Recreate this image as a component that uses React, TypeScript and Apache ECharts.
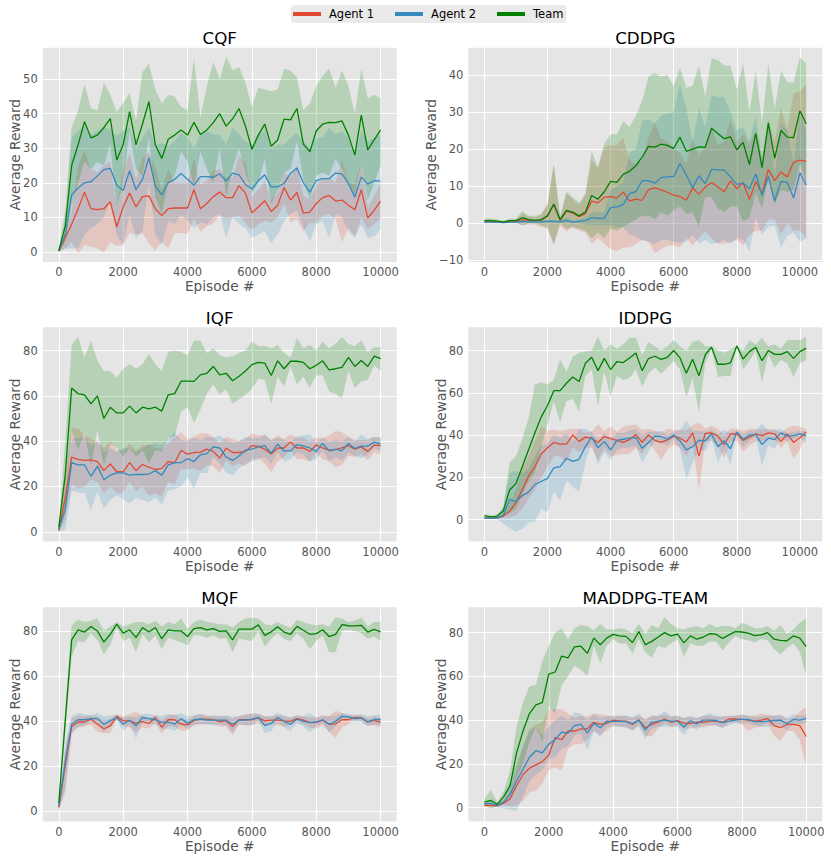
import React, { useEffect, useRef } from "react";
import * as echarts from "echarts";

// ---------- episodes ----------
const EPISODES_TO_10000 = [
  0, 200, 400, 600, 800, 1000,
  1200, 1400, 1600, 1800, 2000,
  2200, 2400, 2600, 2800, 3000,
  3200, 3400, 3600, 3800, 4000,
  4200, 4400, 4600, 4800, 5000,
  5200, 5400, 5600, 5800, 6000,
  6200, 6400, 6600, 6800, 7000,
  7200, 7400, 7600, 7800, 8000,
  8200, 8400, 8600, 8800, 9000,
  9200, 9400, 9600, 9800, 10000,
];
const EPISODES_TO_10200 = [
  0, 200, 400, 600, 800, 1000,
  1200, 1400, 1600, 1800, 2000,
  2200, 2400, 2600, 2800, 3000,
  3200, 3400, 3600, 3800, 4000,
  4200, 4400, 4600, 4800, 5000,
  5200, 5400, 5600, 5800, 6000,
  6200, 6400, 6600, 6800, 7000,
  7200, 7400, 7600, 7800, 8000,
  8200, 8400, 8600, 8800, 9000,
  9200, 9400, 9600, 9800, 10000, 10200,
];

const SERIES_NAMES = ["Agent 1", "Agent 2", "Team"];
const X_TICK_LABELS = ["0", "2000", "4000", "6000", "8000", "10000"];

// ---------- CQF ----------
const cqfA1 = [0.3, 4, 8, 12.5, 17.3, 12.5, 12.2, 12.5, 14.5, 7.2, 13, 17, 13, 16, 16.2, 12.5, 10.5, 12.5, 12.7, 12.7, 12.7, 18, 12.5, 14, 16, 17.3, 15.7, 15.7, 19.2, 17, 11.3, 13, 14.8, 11.7, 13.5, 18.6, 15, 17.2, 11.2, 11.5, 14, 15.7, 16.3, 14.7, 15, 13.5, 12.2, 18, 9.8, 12, 14.7];
const cqfA1Lo = [0, 1, 3, -0.5, 2, 1.5, 1.0, -0.2, 2.8, 1.8, 2.0, 5.5, 5.0, 5.5, 2.5, 0.3, 3.0, 1.0, 5.5, 5.5, 5.2, 9.5, 5.8, 7.5, 8.2, 10.5, 9.5, 10, 10.5, 8.5, 6.5, 8.0, 9.0, 8.5, 10, 14, 8.5, 9.5, 6.0, 8.5, 8.5, 10.5, 11, 9.5, 2.8, 7, 4.5, 10, 6.5, 8, 9.5];
const cqfA1Hi = [0.5, 5, 12, 25, 29.5, 24, 23, 25, 26, 13, 24, 28.5, 21, 27, 29, 24.5, 18, 24, 20, 20, 20, 27, 19.5, 20.5, 23.5, 24, 21.5, 21.5, 28, 25.5, 16, 18, 20.5, 15, 17, 23, 21.5, 25, 16.5, 15, 19.5, 21, 21.5, 20, 27, 20, 19.5, 26, 13, 16, 20];
const cqfA2 = [0.3, 5, 16.5, 18.5, 20, 20.3, 22, 23.8, 24.2, 19.3, 17.8, 23.5, 18, 21, 27.3, 19, 16.5, 20, 21, 22.7, 21, 19.3, 21.8, 21.8, 21.6, 22.6, 20.5, 22.8, 22.3, 19.5, 18.2, 20.6, 22.3, 18.8, 18.8, 19.8, 22.7, 24.3, 20, 17.3, 20.6, 21.2, 21.2, 22.8, 22.6, 19.8, 15.8, 21.7, 19.6, 20.6, 20.5];
const cqfA2Lo = [0, 1, 1, 1, 5, 7, 8, 10, 15, 5, 2, 11, 4, 6, 20, 5, 2, 9, 8, 11, 9, 7, 8.5, 8, 10, 11, 4, 10, 8, 7, 4, 5, 6, 2.5, 5, 9, 11, 12, 7, 3, 8, 9, 4, 11, 10, 6, 4, 8, 4, 4.5, 6.5];
const cqfA2Hi = [0.5, 6, 33, 35, 36.5, 34, 35, 36, 35.5, 33.5, 35, 36, 30, 33, 36, 31, 31.5, 30.5, 32, 34.5, 33, 30, 34, 35, 34, 34, 31, 36, 34, 32, 31, 34, 35, 30, 31, 31, 33, 34.5, 32, 30, 33, 33, 36, 34, 35, 33, 27.5, 35, 32, 33, 34];
const cqfTeam = [0.3, 7.5, 25, 31, 37.7, 33, 33.8, 36, 38.6, 26.6, 31, 40.6, 31, 37, 43.5, 31, 27, 32.6, 33.8, 35.3, 33.8, 37.5, 34, 35.3, 37.4, 40, 36.4, 38.5, 41.5, 36.4, 29.7, 33.8, 37, 30.6, 32.4, 38.4, 38.2, 41.5, 31.2, 29, 35, 37, 37.5, 37.4, 37.9, 33.8, 28, 39.6, 29.5, 32.4, 35.3];
const cqfTeamLo = [0, 3, 14, 20, 26, 24, 26, 25, 31, 13, 20, 35, 24, 22, 33, 16, 11, 20, 22, 29, 26, 19, 29, 24, 20, 30, 16, 24, 30, 23, 17, 20, 27, 14, 18, 23, 24, 32, 21, 15, 22, 23, 22, 27, 24, 20, 16, 26, 15, 20, 25];
const cqfTeamHi = [1, 12, 36, 41, 48.5, 41.5, 41, 49, 45.5, 40.5, 43, 46, 38, 52, 54.5, 47, 43, 45.5, 45, 42, 41, 56, 39, 48, 55, 50, 56.5, 52.5, 53.5, 49, 42, 47.5, 47, 46.5, 47, 53, 52.5, 50.5, 41, 43, 48, 51, 53, 47.5, 52.5, 48, 40, 53, 44.5, 45.5, 44.5];

// ---------- CDDPG ----------
const cddpgA1 = [0.5, 0.5, 0.4, 0.3, 0.5, 0.5, 1.0, 0.8, 0.7, 0.8, 2.0, 5.0, 0.8, 3.2, 2.8, 1.8, 2.5, 6.0, 5.5, 7.0, 7.2, 6.8, 8.4, 6.0, 6.5, 6.2, 9.0, 9.6, 9.0, 8.3, 7.6, 7.2, 6.2, 9.5, 7.8, 9.8, 11.0, 9.8, 8.5, 11.5, 9.3, 11.0, 6.4, 11.2, 8.0, 14.5, 11.5, 13.8, 12.5, 16.5, 17, 16.7];
const cddpgA1Lo = [0, 0, 0, 0, 0, 0, -0.5, -0.3, -0.3, -1, -1.5, -6, -0.5, -2.2, -1, -2, -2.5, -5.5, -4, -5.5, -7, -7.5, -6.5, -6.5, -5.5, -4.5, -5, -8, -7, -6, -6, -6.5, -4, -6, -4, -2, -4, -5.5, -5.5, -5, -4.5, -6, -3, -2, -2, 1, 1, -3, 0, -2, -2, -4];
const cddpgA1Hi = [1, 1, 0.8, 0.6, 1, 1, 2.5, 1.8, 1.5, 2.3, 5, 16, 1.5, 8, 6.5, 5, 7.5, 17, 15, 20.5, 21, 21, 23, 17, 16, 17, 23, 27, 23, 22, 20, 19, 16, 23, 18, 21, 26, 21, 22, 28, 22, 24, 21, 25, 18, 28, 22, 31, 25, 35, 35.5, 37.5];
const cddpgA2 = [0.3, 0.3, 0.3, 0.2, 0.3, 0.3, 0.5, 0.4, 0.4, 0.4, 0.5, 0.5, 0.4, 0.8, 0.3, 0.5, 0.7, 1.5, 1.3, 1.4, 4.2, 4.4, 5.0, 8.0, 8.5, 11.5, 11.5, 10.8, 12.3, 12.5, 12.6, 16.1, 13, 9.5, 12.8, 10.7, 14.5, 14.4, 14.3, 12.5, 10.5, 10.8, 9.3, 13.3, 7.5, 12.6, 6.0, 11.3, 11, 6.8, 13.6, 10.3];
const cddpgA2Lo = [0, 0, 0, 0, 0, 0, 0, 0, 0, 0, 0, 0, 0, 0, 0, 0, -0.3, -0.5, -0.5, -0.5, -0.5, -1, -1, -3, -3.5, -4.5, -5, -5.5, -4.5, -4.5, -5, -5.3, -5, -3, -5.5, -4.5, -5.5, -5.2, -4.5, -5.5, -4, -4.5, -7.5, 1.5, -3, -1, -0.5, -6.5, -3.5, -2.5, -5, -4];
const cddpgA2Hi = [0.6, 0.6, 0.6, 0.4, 0.6, 0.6, 1, 0.8, 0.8, 0.8, 1, 1, 0.8, 1.5, 0.8, 1, 1.5, 3, 3, 3, 9, 10, 11, 19, 20, 27.5, 28, 27, 29, 29.5, 30, 37.5, 31, 22, 31, 26, 34.5, 34, 34, 30, 25, 26, 22, 29, 17, 28, 13, 27, 25, 16, 30, 25];
const cddpgTeam = [0.7, 0.7, 0.6, 0.3, 0.7, 0.7, 1.5, 1.0, 0.8, 1.0, 2.0, 5.2, 1.0, 3.5, 3.0, 2.0, 3.0, 7.5, 6.5, 8.5, 11.3, 11, 13.2, 14, 15.5, 17.8, 20.7, 20.5, 21.3, 21, 20.2, 23.2, 19.4, 20, 20.6, 20.5, 25.6, 24.2, 22.8, 23.3, 19.8, 21.8, 15.8, 24.2, 15, 27, 17.5, 25, 23.2, 23.1, 30.3, 26.8];
const cddpgTeamLo = [0.2, 0.2, 0.2, 0, 0.3, 0.3, -0.5, 0, 0, -0.5, -1, -5.5, 0, -1.5, -1, -1.5, -2, -4, -2.5, -4, -1.5, -2, -1, 0, 1, 2, 2, 1, 3, 2, 3.5, 4.5, 2.5, 3, -1, 7, 7, 4, 3, 4.5, 4.5, 0.5, 1.5, 8, 4, 12, 5, 9, 8.5, 9, 16, 11];
const cddpgTeamHi = [1.3, 1.3, 1, 0.7, 1.2, 1.2, 3.3, 2, 2, 2.5, 5, 16, 2, 8.5, 7, 5.5, 8, 19.5, 15, 21.5, 24, 24, 27.5, 26, 29, 33, 39.5, 40.5, 39.5, 40, 37, 42, 36.5, 37, 42.5, 34, 44.5, 44, 42.5, 42.5, 36, 43, 30, 41, 27, 43, 31, 41, 38, 38, 44.8, 43];

// ---------- IQF ----------
const iqfA1 = [0.5, 15, 33, 32, 31.5, 31.7, 31, 27, 30, 26.5, 26.5, 30.5, 27, 29.7, 28.5, 27.5, 28, 31, 30.5, 36, 34.3, 35, 35.2, 36.5, 35.5, 32.5, 37, 35, 35, 35.5, 38, 37.7, 36.5, 34.3, 37, 37, 39.7, 37, 37, 35.5, 38.3, 37, 36, 36.3, 37, 38, 36.5, 37.5, 35.5, 38.3, 38];
const iqfA1Lo = [0, 5, 21, 19, 20, 23, 22, 17, 20, 17, 17.5, 22, 18, 20, 16, 17, 15.5, 22, 21, 28, 27.5, 28, 27, 29.5, 29, 26, 31.5, 29, 30, 29, 32, 32.5, 30, 26.5, 31, 33, 36, 32, 32, 31, 35, 32, 31, 28.5, 29.5, 33.5, 33, 34.5, 31.5, 35, 34];
const iqfA1Hi = [1, 25, 46, 45.5, 43, 41, 40, 37, 40, 36, 36, 39, 36, 38, 38.5, 37, 36.5, 39, 41.5, 44, 41, 42, 43.5, 43.5, 42, 39, 42, 41, 40, 41, 43.5, 42.5, 43, 40.5, 42.5, 41, 43, 41.5, 41.5, 40, 41.5, 41.5, 42.5, 44.5, 44, 42, 40.5, 40.5, 40.5, 42, 41.5];
const iqfA2 = [1, 10, 30.5, 29.5, 29.5, 24.5, 29, 23, 25, 26, 26, 25, 25.3, 25.3, 25.5, 27, 25, 29.5, 30.5, 30.5, 32.3, 31, 34, 34.5, 37.5, 37, 33, 31.5, 33.5, 36, 36.5, 37.5, 38, 34.7, 38.7, 35.7, 35.7, 38.5, 37.8, 37, 35.5, 39, 35.7, 36.5, 35.7, 39, 36.8, 37.8, 37.8, 39.6, 38.7];
const iqfA2Lo = [0, 1, 18, 17.5, 17, 9.5, 18, 10, 14, 16, 14.5, 12.5, 15, 14, 13, 15, 12, 18, 19, 20, 24, 19, 26, 26, 33, 30, 26, 25, 28, 30, 31, 32, 33, 30, 35, 31, 32, 35, 34, 31, 32, 36, 31, 33, 31.5, 35, 33.5, 32.5, 34, 37, 35.5];
const iqfA2Hi = [1.5, 15, 41, 41.5, 42, 38, 40, 35, 37, 35, 37, 37, 35, 37, 38.5, 39, 38.5, 41, 44, 40.5, 40, 41.5, 40.5, 42, 41.5, 42.5, 40.5, 39.5, 40, 42, 41.5, 41.5, 42.5, 40.5, 41.5, 40.5, 39.5, 42, 42.5, 43, 39.5, 41.5, 40, 40.5, 40, 42, 40, 43, 41, 42, 41.5];
const iqfTeam = [2, 25, 63.5, 61, 60.5, 56.5, 60, 50, 55, 52.5, 52.5, 55.5, 52.5, 55, 54.3, 55, 53.3, 60.5, 61, 66.5, 66.5, 66.4, 69.3, 70, 73, 69.3, 70, 66.7, 68.7, 71, 73.8, 74.8, 74.5, 69, 75.5, 72, 75.3, 75.3, 74.8, 72, 73.5, 75.5, 71.5, 72, 72.6, 77, 73, 75.6, 73, 77.6, 76.5];
const iqfTeamLo = [0, 8, 44.5, 36, 44, 29, 45, 29, 39, 37, 33, 37, 33, 36, 30, 36, 35.5, 41.5, 42, 53, 55, 48, 54, 61, 65, 60.5, 63, 56.5, 58.5, 60.5, 63, 67.5, 67, 56.5, 68.5, 64, 73, 65, 68.5, 63.5, 69, 69, 62, 61, 59, 71, 63.5, 66.5, 67, 73.5, 71];
const iqfTeamHi = [3, 40, 82.5, 86, 77, 84.5, 75.5, 71, 71, 68, 72, 74, 72, 74, 78.5, 74, 71, 79.5, 80, 79.5, 78, 84.5, 84.5, 79, 81, 78, 77, 77.5, 79, 80, 84, 82, 82, 81, 82.5, 79, 77, 85.5, 81, 82.5, 80, 84, 81, 83, 86, 83, 82, 84.5, 79.5, 81.5, 81.5];

// ---------- IDDPG ----------
const iddpgA1 = [0.8, 0.7, 0.8, 1.5, 4, 8, 14, 20.5, 25, 31, 34, 36.5, 35.7, 35.7, 40, 37, 39, 38.5, 36.5, 39.3, 38.3, 37.5, 36.5, 37.8, 40.2, 36.5, 40, 37.5, 36.5, 37.7, 39.5, 38.5, 36.7, 41, 30, 40.8, 41, 39.5, 35.5, 40.5, 40.5, 37.5, 39, 40.5, 39.7, 41, 40.5, 37, 40.5, 36.5, 38.7, 41.5];
const iddpgA1Lo = [0.3, 0.3, 0.3, 0.8, 1, 2, 5, 10, 14, 20, 25, 30, 30, 27, 34, 32, 34, 34, 28, 34, 30, 30.5, 31, 31, 34, 31, 36, 33, 28, 33, 35.5, 34, 30, 36, 14, 37, 37, 35, 29, 37, 37, 32, 35, 37, 37, 38, 38, 34, 37, 28.5, 33, 40];
const iddpgA1Hi = [1.2, 1, 1.2, 2.5, 8, 14, 24, 30, 37, 44, 42, 42.5, 42, 42.5, 43, 43, 41, 41.5, 45, 42, 44, 41.5, 44, 44.5, 45, 42.5, 43, 42, 41, 43, 42.5, 42.5, 42, 44.5, 46, 43, 44.5, 43, 40, 43, 43, 42, 43, 43, 42.5, 43, 42.5, 41, 43.5, 44.5, 44, 43];
const iddpgA2 = [0.7, 0.6, 0.7, 2, 9.5, 8.5, 11.3, 13, 16.5, 18, 19.5, 24.5, 25, 29, 27.5, 28.5, 34.5, 39, 34, 37, 33, 37.5, 38, 38.5, 38.8, 33.7, 36.5, 39.5, 39.3, 38, 40, 37.2, 33, 34.5, 37.5, 37.3, 40.5, 34.5, 37.3, 33.5, 41.5, 38, 40, 40.3, 35.5, 38.5, 37.8, 41, 39.5, 39.7, 40.5, 39.7];
const iddpgA2Lo = [0.2, 0.2, 0.2, -2, -4, -5.8, -4.5, -1.5, -1, 5, 3.5, 13, 9, 18.5, 15.5, 13, 27, 36, 26, 32, 28, 33, 34, 34, 35, 27, 32, 37, 36.5, 35, 38, 33, 19, 27, 33, 32.5, 38.5, 27, 33, 26, 40.5, 34, 37.5, 39, 25.5, 35, 33.5, 38.5, 37, 38, 39, 36];
const iddpgA2Hi = [1.2, 1, 1.2, 6, 22, 23, 22, 24, 30, 35, 36, 40, 38.5, 41, 37, 43, 43, 41.5, 38, 41, 38.5, 41, 41, 42, 43, 40, 41.5, 41.5, 42, 40, 41.5, 42, 47, 42, 42, 41.5, 42.5, 40.5, 42.5, 41, 42, 40.5, 42, 42, 45.5, 42, 42.5, 43, 41, 41.5, 42, 41.5];
const iddpgTeam = [1.8, 1.3, 1.5, 4, 14, 17, 25, 33, 41, 48.5, 54, 61, 61, 64.5, 67.5, 65.3, 74, 76.8, 70.5, 76.3, 71, 74.8, 74.3, 76.5, 78.8, 70.5, 76.2, 77.3, 75.8, 76.8, 80, 76.5, 69.3, 75.9, 68, 78, 81.6, 73.5, 73.5, 74.2, 82.2, 76, 79.5, 81.5, 75.2, 80, 78.2, 78.2, 79.5, 76.3, 79.5, 81];
const iddpgTeamLo = [1, 0.5, 0.5, 1.5, 3, 5, 12, 18, 22, 34, 45, 56, 46, 56, 57, 51, 68, 71, 54, 70, 58, 68, 66, 67, 71, 63, 69, 72, 69, 72, 75, 71, 58, 67, 51, 74, 81, 67.5, 68, 68, 82, 71, 75, 80, 65, 78, 72, 75.5, 74, 67.5, 74, 75.5];
const iddpgTeamHi = [2.5, 2, 2.5, 6, 27, 30, 38, 48, 64, 65, 64, 66, 76, 70, 77, 79, 79.5, 80, 86.5, 80, 83, 81, 83, 86, 86, 78, 84, 82, 80, 82, 85, 82, 80, 84, 85, 82, 82, 80, 79, 80.5, 82, 80, 85, 83, 86, 82, 83, 81, 85, 85, 85, 86.5];

// ---------- MQF ----------
const mqfA1 = [1.5, 20, 37.5, 39.5, 39.5, 40.8, 38.5, 36.5, 37.8, 42, 40, 40, 39, 39.7, 38.8, 41.5, 37.2, 40.5, 40.5, 38.5, 38.2, 40.2, 40.8, 40.8, 40.5, 39.7, 40, 37.5, 40.5, 40.5, 40.5, 41.3, 40, 40.3, 40.3, 40, 39.8, 41, 40.3, 39.2, 39.3, 40.3, 38.5, 38.7, 40.5, 40.5, 41.5, 41.3, 39.5, 40.2, 39.3];
const mqfA1Lo = [0, 8, 34, 37, 37.5, 38.5, 35, 34.5, 34.5, 40.5, 38, 37, 35, 37, 36.5, 39, 34.5, 37.5, 37.5, 35.5, 36, 38, 38.5, 38.5, 38.5, 37.5, 37.5, 33.5, 38.5, 38, 38, 39, 37.5, 38.5, 38, 37.5, 38, 39.5, 38.5, 37, 36.5, 38, 35, 32.5, 37, 38.5, 40.5, 40, 38, 38, 37];
const mqfA1Hi = [2.5, 27, 41, 42.5, 42, 42.5, 42, 40, 41, 43, 42, 43, 44, 42, 41, 42.5, 40, 42.5, 43, 41, 40.5, 42, 43, 42.5, 42, 42, 42, 41, 42, 43, 43, 43, 42, 42, 42.5, 42, 41.5, 42.5, 42, 41.5, 41.5, 42.5, 42, 44.5, 43.5, 42.5, 42.5, 42.5, 41, 42, 41.5];
const mqfA2 = [2, 22, 38.5, 40.5, 40.5, 41, 41, 38.5, 40, 41.5, 38.5, 40.3, 37.8, 41.5, 41, 40.5, 39.3, 39.5, 38.5, 41, 39, 40.5, 40.8, 40.3, 40.3, 40.3, 40.3, 38.5, 40.3, 40.3, 40.8, 41.5, 38, 38.8, 41.5, 39.8, 38.5, 40.8, 39.8, 39.3, 39.5, 40.5, 38.5, 39.8, 42, 41.8, 41, 41.3, 39.6, 40.6, 40.6];
const mqfA2Lo = [0, 10, 35, 37.5, 38, 39.5, 38.5, 35, 37.5, 40.5, 35.5, 38.5, 32, 40, 39, 38.5, 36.5, 36.5, 35.5, 38.5, 36, 38.5, 38.5, 38.5, 38, 38.5, 38, 35, 38.5, 38, 38, 40, 34.5, 35.5, 39.5, 37, 35.5, 39, 37.5, 35, 37.5, 39, 35, 37.5, 40.5, 40.5, 39.5, 39.5, 37.5, 38.5, 38];
const mqfA2Hi = [3, 30, 42, 43.5, 43, 42.5, 43.5, 42, 42.5, 42.5, 41.5, 42, 41.5, 43, 43, 42.5, 42, 43, 42.5, 43.5, 42, 42.5, 43, 42, 42.5, 42, 42.5, 42, 42, 42.5, 43.5, 43, 42, 42, 43.5, 42.5, 41.5, 42.5, 42, 43.5, 41.5, 42, 42, 42, 43.5, 43, 42.5, 43, 42, 42.5, 43];
const mqfTeam = [3.5, 40, 76, 80.5, 79.5, 82, 80, 75, 78.5, 83, 79, 80.5, 77, 81.5, 79.5, 81.5, 76.5, 80.5, 80, 80, 77.5, 81, 81.5, 80.5, 81, 79.8, 80, 76, 80.8, 80.8, 80.8, 82.7, 78, 79.6, 81.8, 79.5, 78.5, 82, 80.3, 78.5, 78.8, 80.5, 77.5, 78.5, 82.8, 82.3, 82.2, 82.5, 79.5, 80.7, 79.6];
const mqfTeamLo = [2, 35, 68.5, 75.5, 75, 79, 76, 69.5, 74, 81.5, 75.5, 77, 70.5, 78.5, 75, 78, 72, 77, 76, 75, 73.5, 78, 78, 77, 78, 76.5, 77, 70.5, 76.5, 76, 75.5, 80, 73, 76.5, 79, 76.5, 75.5, 79, 76.5, 72, 75.5, 78, 70.5, 70.5, 80, 80.5, 80, 79, 76.5, 77.5, 75.5];
const mqfTeamHi = [5, 45, 82.5, 85, 84, 84.5, 85.5, 80, 82, 84, 82, 83, 84, 84, 83, 84.5, 82, 84, 83, 85.5, 81, 84, 85, 84, 83.5, 83, 83, 81.5, 84, 85.5, 86, 85.5, 83, 82.5, 84, 82.5, 81.5, 85, 84, 83, 82.5, 83, 82, 86, 85.5, 84, 84.5, 86, 82, 84, 84];

// ---------- MADDPG-TEAM ----------
const maddpgA1 = [1, 1, 0.8, 2, 4, 10, 15, 18, 19.5, 21, 24, 32, 31, 35, 35, 36, 36, 39, 38, 38.5, 40, 39.5, 39.5, 38, 40, 36.5, 38, 39, 40.5, 39, 39.8, 38.5, 38.5, 39, 39, 39.5, 39.5, 39, 40.5, 40.5, 40.3, 40, 39.5, 40, 40.7, 37.5, 36.5, 38, 38, 37.5, 32.5];
const maddpgA1Lo = [0.2, 0, 0.2, 1, 0.5, 1, 3, 7, 7.5, 11, 17, 18.5, 17, 27, 29, 29, 31, 35, 33.5, 35, 37.5, 37, 37, 35, 38, 33, 32.5, 36, 38.5, 37, 37.5, 36, 36, 37, 36.5, 37.5, 37.5, 36.5, 39, 39, 38, 35, 36.5, 37, 38.5, 33, 30.5, 35, 35, 31, 19];
const maddpgA1Hi = [2, 2, 1.5, 3, 8, 18, 28, 36, 38, 39, 45, 45, 45, 43, 41, 42, 41.5, 43, 42.5, 42, 42, 42, 42, 41, 42, 40.5, 42, 42, 42.5, 41.5, 42, 41, 41.5, 41, 42, 42, 41.5, 41.5, 42, 42, 42.5, 42, 42, 43, 42.5, 42, 42, 40.5, 41, 44, 46];
const maddpgA2 = [1.5, 2, 0.8, 2.5, 6, 12, 17.5, 23, 26, 25, 29, 31, 34.5, 34, 37.5, 38, 34, 38.5, 36.5, 39.5, 39.3, 39.5, 39.3, 38.3, 40, 35.5, 39, 39.5, 40, 39.5, 39.5, 36.8, 39.7, 38.3, 40, 40, 39.8, 38.8, 39.5, 40, 40.3, 40.3, 39.3, 39.3, 39.5, 39.8, 40, 38.3, 40.3, 40, 40.8];
const maddpgA2Lo = [0.5, 1, 0, -0.5, -1, -1.5, 5, 12, 15, 17, 22, 23, 27, 28, 33, 34, 26, 35, 32, 37, 37, 37, 36.5, 35.5, 37, 31.5, 36, 37, 37, 37, 37, 33, 37.5, 35.5, 38, 37.5, 37.5, 36.5, 37.5, 38.5, 38.5, 38.5, 37.5, 37, 37, 37.5, 37.5, 35.5, 38, 38, 39];
const maddpgA2Hi = [2.5, 3, 1.5, 4, 12, 20, 28, 35, 37, 33, 37, 40, 42, 40, 43.5, 43, 40, 42.5, 41, 42, 41.5, 42, 42, 41.5, 43, 40, 42, 42, 44, 42, 42, 41, 42, 41, 42, 43, 42, 41.5, 42, 42, 42.5, 42, 41.5, 41.5, 42, 42, 42.5, 41, 42.5, 42, 42.5];
const maddpgTeam = [2.5, 3.3, 1.5, 5, 10, 25, 35, 43, 47, 48, 61, 62, 69.3, 68.5, 73.5, 73.8, 70.5, 77.5, 74.5, 77.5, 79.2, 78.5, 78.3, 75.5, 80.5, 74.5, 76, 78, 80, 78.5, 79.3, 75.3, 78.5, 77, 78, 79.5, 79.3, 77.3, 79, 80.5, 80.3, 79.8, 78.6, 79, 80, 77, 76.5, 76.3, 78.5, 77.5, 73.6];
const maddpgTeamLo = [1, -0.5, 0.5, 2.5, 5, 13, 20, 30, 37, 30, 46, 43, 56, 60, 65, 63, 60, 74, 66, 74, 77, 75, 75, 70.5, 77, 71, 68.5, 74, 73, 75, 77, 69, 75, 74, 74, 76, 76, 72, 75.5, 78.5, 77, 76.5, 75.5, 77, 76.5, 72.5, 70, 73, 75, 71, 60.5];
const maddpgTeamHi = [4, 8, 2.5, 7.5, 17, 37, 48, 55.5, 56, 67, 74, 80, 82, 77, 82, 83.5, 83, 81, 84, 81.5, 81.5, 82, 81.5, 80, 84, 79.5, 83.5, 82, 87, 84, 82, 81.5, 82.5, 83, 82, 84, 82.5, 83, 83, 82, 84.5, 83.5, 82, 82, 83, 81, 83.5, 79.5, 81.5, 84.5, 86.5];

// ---------- panels (data only) ----------
const PANELS = [
  { title: "CQF", episodes: EPISODES_TO_10000, lines: [[cqfA1, cqfA1Lo, cqfA1Hi], [cqfA2, cqfA2Lo, cqfA2Hi], [cqfTeam, cqfTeamLo, cqfTeamHi]], xRange: [-500, 10500], yRange: [-2.9, 59.1], yStep: 10 },
  { title: "CDDPG", episodes: EPISODES_TO_10200, lines: [[cddpgA1, cddpgA1Lo, cddpgA1Hi], [cddpgA2, cddpgA2Lo, cddpgA2Hi], [cddpgTeam, cddpgTeamLo, cddpgTeamHi]], xRange: [-510, 10710], yRange: [-10.4, 47.3], yStep: 10 },
  { title: "IQF", episodes: EPISODES_TO_10000, lines: [[iqfA1, iqfA1Lo, iqfA1Hi], [iqfA2, iqfA2Lo, iqfA2Hi], [iqfTeam, iqfTeamLo, iqfTeamHi]], xRange: [-500, 10500], yRange: [-4.3, 90.3], yStep: 20 },
  { title: "IDDPG", episodes: EPISODES_TO_10200, lines: [[iddpgA1, iddpgA1Lo, iddpgA1Hi], [iddpgA2, iddpgA2Lo, iddpgA2Hi], [iddpgTeam, iddpgTeamLo, iddpgTeamHi]], xRange: [-510, 10710], yRange: [-10.4, 91], yStep: 20 },
  { title: "MQF", episodes: EPISODES_TO_10000, lines: [[mqfA1, mqfA1Lo, mqfA1Hi], [mqfA2, mqfA2Lo, mqfA2Hi], [mqfTeam, mqfTeamLo, mqfTeamHi]], xRange: [-500, 10500], yRange: [-4.75, 90.5], yStep: 20 },
  { title: "MADDPG-TEAM", episodes: EPISODES_TO_10000, lines: [[maddpgA1, maddpgA1Lo, maddpgA1Hi], [maddpgA2, maddpgA2Lo, maddpgA2Hi], [maddpgTeam, maddpgTeamLo, maddpgTeamHi]], xRange: [-500, 10500], yRange: [-6.4, 91.6], yStep: 20 },
];

// ---------- layout & style ----------
const GRID_W = 354;
const GRID_H = 214.2;
const LAYOUT = [
  { left: 42.7, top: 47.7, yNameX: 15 },
  { left: 468.3, top: 47.7, yNameX: 430.7 },
  { left: 42.7, top: 327.3, yNameX: 15 },
  { left: 468.3, top: 327.3, yNameX: 440.7 },
  { left: 42.7, top: 607.3, yNameX: 15 },
  { left: 468.3, top: 607.3, yNameX: 440.7 },
];
const COLORS = ["#E24A33", "#348ABD", "#008000"];
const BAND_COLORS = ["rgba(226,74,51,0.2)", "rgba(52,138,189,0.2)", "rgba(0,128,0,0.2)"];
const FONT = "DejaVu Sans";
const GRAY = "#555555";

function isMultiple(v: number, step: number) {
  return Math.abs(v / step - Math.round(v / step)) < 1e-6;
}

function buildOption() {
  const grid: any[] = [];
  const xAxis: any[] = [];
  const yAxis: any[] = [];
  const series: any[] = [];
  const graphic: any[] = [];

  PANELS.forEach((p, i) => {
    const L = LAYOUT[i];
    grid.push({
      left: L.left, top: L.top, width: GRID_W, height: GRID_H,
      show: true, backgroundColor: "#E5E5E5", borderWidth: 0, containLabel: false,
    });
    xAxis.push({
      type: "value", gridIndex: i, min: p.xRange[0], max: p.xRange[1],
      minInterval: 2000, maxInterval: 2000,
      axisLine: { show: false }, axisTick: { show: false },
      splitLine: { show: true, showMinLine: false, showMaxLine: false, lineStyle: { color: "#FFFFFF", width: 1.1 } },
      axisLabel: {
        margin: 4, color: GRAY, fontFamily: FONT, fontSize: 11.5, lineHeight: 12,
        showMinLabel: false, showMaxLabel: false,
        formatter: (v: number) => {
          if (!isMultiple(v, 2000)) return "";
          const idx = Math.round(v / 2000);
          return X_TICK_LABELS[idx] !== undefined ? X_TICK_LABELS[idx] : "";
        },
      },
    });
    yAxis.push({
      type: "value", gridIndex: i, min: p.yRange[0], max: p.yRange[1],
      minInterval: p.yStep, maxInterval: p.yStep,
      axisLine: { show: false }, axisTick: { show: false },
      splitLine: { show: true, showMinLine: false, showMaxLine: false, lineStyle: { color: "#FFFFFF", width: 1.1 } },
      axisLabel: {
        margin: 5, color: GRAY, fontFamily: FONT, fontSize: 11.5,
        showMinLabel: false, showMaxLabel: false,
        formatter: (v: number) => (isMultiple(v, p.yStep) ? String(Math.round(v)).replace("-", "\u2212") : ""),
      },
    });

    // bands
    p.lines.forEach((trip, k) => {
      const [, lo, hi] = trip;
      const data = p.episodes.map((x, j) => [x, lo[j], hi[j]]);
      series.push({
        type: "custom",
        name: SERIES_NAMES[k] + " band",
        xAxisIndex: i, yAxisIndex: i,
        data,
        encode: { x: 0, y: [1, 2] },
        silent: true,
        z: 1,
        renderItem: (params: any, api: any) => {
          if (params.dataIndex !== 0) return null;
          const upper = data.map((d) => api.coord([d[0], d[2]]));
          const lower = data.map((d) => api.coord([d[0], d[1]])).reverse();
          return {
            type: "polygon",
            shape: { points: upper.concat(lower) },
            style: { fill: BAND_COLORS[k], stroke: "none" },
            silent: true,
          };
        },
      });
    });
    // mean lines
    p.lines.forEach((trip, k) => {
      const [mean] = trip;
      series.push({
        type: "line",
        name: SERIES_NAMES[k],
        xAxisIndex: i, yAxisIndex: i,
        data: p.episodes.map((x, j) => [x, mean[j]]),
        symbol: "none", showSymbol: false,
        itemStyle: { color: COLORS[k] },
        lineStyle: { color: COLORS[k], width: 1.3 },
        emphasis: { disabled: true },
        z: 3 + k,
      });
    });

    // title
    graphic.push({
      type: "text", x: L.left + GRID_W / 2, y: L.top - 9.5, silent: true,
      style: { text: p.title, fill: "#000000", font: `16.7px "${FONT}"`, textAlign: "center", textVerticalAlign: "middle" },
    });
    // x-axis name
    graphic.push({
      type: "text", x: L.left + GRID_W / 2, y: L.top + GRID_H + 24, silent: true,
      style: { text: "Episode #", fill: GRAY, font: `13.7px "${FONT}"`, textAlign: "center", textVerticalAlign: "middle" },
    });
    // y-axis name
    graphic.push({
      type: "text", x: L.yNameX, y: L.top + GRID_H / 2, rotation: Math.PI / 2, silent: true,
      style: { text: "Average Reward", fill: GRAY, font: `13.7px "${FONT}"`, textAlign: "center", textVerticalAlign: "middle" },
    });
  });

  return {
    animation: false,
    backgroundColor: "#FFFFFF",
    textStyle: { fontFamily: FONT },
    legend: {
      data: SERIES_NAMES,
      left: 291, top: 5,
      orient: "horizontal",
      icon: "rect",
      itemWidth: 28, itemHeight: 4, itemGap: 21,
      padding: [3, 3, 3, 2],
      backgroundColor: "#EAEAEA",
      borderRadius: 3,
      selectedMode: false,
      textStyle: { fontFamily: FONT, fontSize: 11.5, color: "#000000", padding: [0, 0, 0, 3] },
    },
    grid, xAxis, yAxis, series, graphic,
  };
}

export default function App() {
  const ref = useRef<HTMLDivElement>(null);
  useEffect(() => {
    document.body.style.margin = "0";
    if (!ref.current) return;
    const chart = echarts.init(ref.current, undefined, { renderer: "svg" });
    chart.setOption(buildOption() as any);
    return () => chart.dispose();
  }, []);
  return <div ref={ref} style={{ width: 831, height: 858 }} />;
}
